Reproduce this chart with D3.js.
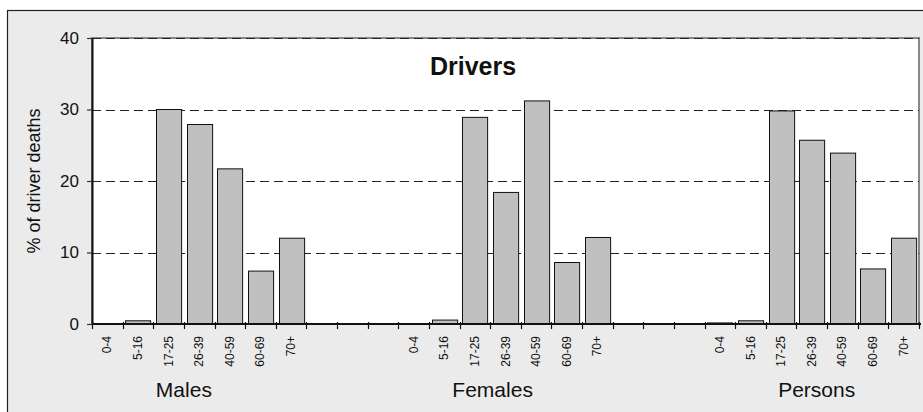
<!DOCTYPE html>
<html>
<head>
<meta charset="utf-8">
<script src="https://cdn.jsdelivr.net/npm/d3@7/dist/d3.min.js"></script>
<style>
  html, body { margin: 0; padding: 0; background: #ffffff; }
  svg { display: block; font-family: "Liberation Sans", Arial, Helvetica, sans-serif; }
</style>
</head>
<body>
<svg id="chart" width="923" height="412"></svg>
<script>
// ---- data ----
const ageGroups = ["0-4", "5-16", "17-25", "26-39", "40-59", "60-69", "70+"];
const groups = ["Males", "Females", "Persons"];
const males   = [0, 0.45, 30.0, 27.9, 21.7, 7.4, 12.0];
const females = [0, 0.55, 28.9, 18.4, 31.2, 8.6, 12.1];
const persons = [0.15, 0.45, 29.8, 25.7, 23.9, 7.7, 12.0];
const yTicks = [0, 10, 20, 30, 40];
const title = "Drivers";
const yLabel = "%  of driver deaths";

// ---- layout ----
const W = 923, H = 412;
const plot = { left: 92, right: 919, top: 38, bottom: 324 };
const gapSlots = 3;
const nSlots = groups.length * ageGroups.length + (groups.length - 1) * gapSlots;

const svg = d3.select("#chart");

// outer frame (cut off at right and bottom, as in the reference)
svg.append("rect")
  .attr("x", 7.5).attr("y", 10.5)
  .attr("width", W + 10).attr("height", H + 10)
  .attr("fill", "#ebebeb").attr("stroke", "#222").attr("stroke-width", 1.2);

// plot area
svg.append("rect")
  .attr("x", plot.left).attr("y", plot.top)
  .attr("width", plot.right - plot.left).attr("height", plot.bottom - plot.top)
  .attr("fill", "#ffffff").attr("stroke", "#888").attr("stroke-width", 2);

const seriesByGroup = { Males: males, Females: females, Persons: persons };
const rows = [];
groups.forEach((g, gi) => {
  ageGroups.forEach((a, ai) => {
    rows.push({ group: g, age: a, value: seriesByGroup[g][ai], slot: gi * (ageGroups.length + gapSlots) + ai });
  });
});

const x = d3.scaleBand()
  .domain(d3.range(nSlots))
  .range([plot.left, plot.right])
  .paddingInner(0.18)
  .paddingOuter(0.09);
const xEdge = d3.scaleLinear().domain([0, nSlots]).range([plot.left, plot.right]);
const y = d3.scaleLinear().domain([0, 40]).range([plot.bottom, plot.top]);

// gridlines (dashed)
svg.append("g").selectAll("line")
  .data(yTicks.filter(t => t > 0))
  .join("line")
  .attr("x1", plot.left).attr("x2", plot.right)
  .attr("y1", d => Math.round(y(d)) + 0.5).attr("y2", d => Math.round(y(d)) + 0.5)
  .attr("stroke", "#222").attr("stroke-width", 1)
  .attr("stroke-dasharray", "9,5");

// bars
svg.append("g").selectAll("rect")
  .data(rows)
  .join("rect")
  .attr("x", d => Math.round(x(d.slot)) + 0.5)
  .attr("y", d => y(d.value))
  .attr("width", x.bandwidth())
  .attr("height", d => y(0) - y(d.value))
  .attr("fill", "#c0c0c0")
  .attr("stroke", "#111").attr("stroke-width", 1);

// y axis
const yAxis = svg.append("g")
  .attr("transform", `translate(${plot.left},0)`)
  .call(d3.axisLeft(y).tickValues(yTicks).tickSize(5).tickPadding(8).tickSizeOuter(0));
yAxis.select(".domain").attr("stroke", "#111").attr("stroke-width", 2);
yAxis.selectAll(".tick line").attr("stroke", "#333").attr("stroke-width", 1.2);
yAxis.selectAll(".tick text")
  .attr("font-size", 17).attr("fill", "#111")
  .attr("font-family", "'Liberation Sans', Arial, sans-serif");

// x axis baseline
svg.append("line")
  .attr("x1", plot.left).attr("x2", plot.right + 2)
  .attr("y1", y(0)).attr("y2", y(0))
  .attr("stroke", "#111").attr("stroke-width", 2);

// x ticks at slot boundaries (crossing the axis)
svg.append("g").selectAll("line")
  .data(d3.range(nSlots + 1))
  .join("line")
  .attr("x1", d => Math.round(xEdge(d)) + 0.5).attr("x2", d => Math.round(xEdge(d)) + 0.5)
  .attr("y1", y(0) - 2).attr("y2", y(0) + 5)
  .attr("stroke", "#111").attr("stroke-width", 1.2);

// category labels (rotated)
svg.append("g").selectAll("text")
  .data(rows)
  .join("text")
  .attr("transform", d => `translate(${x(d.slot) + x.bandwidth() / 2 + 4},${y(0) + 12}) rotate(-90)`)
  .attr("text-anchor", "end")
  .attr("font-size", 12)
  .attr("fill", "#111")
  .text(d => d.age);

// group labels
const groupLabelSlot = [3.0, 13.08, 23.66];
svg.append("g").selectAll("text")
  .data(groups)
  .join("text")
  .attr("x", (d, i) => xEdge(groupLabelSlot[i]))
  .attr("y", 397)
  .attr("text-anchor", "middle")
  .attr("font-size", 21)
  .attr("fill", "#111")
  .text(d => d);

// title
svg.append("text")
  .attr("x", 473).attr("y", 75)
  .attr("text-anchor", "middle")
  .attr("font-size", 25).attr("font-weight", "bold")
  .attr("fill", "#111")
  .text(title);

// y label
svg.append("text")
  .attr("transform", `translate(40,${(plot.top + plot.bottom) / 2}) rotate(-90)`)
  .attr("text-anchor", "middle")
  .attr("font-size", 18)
  .attr("fill", "#111")
  .text(yLabel);
</script>
</body>
</html>
